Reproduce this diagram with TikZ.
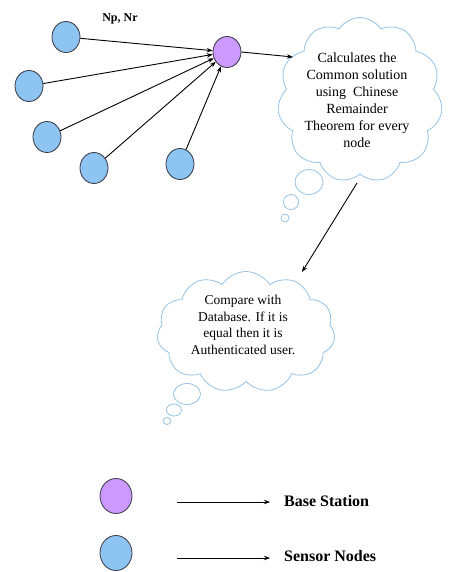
\documentclass[tikz,border=0pt]{standalone}
\usepackage{fontspec}
\setmainfont{Liberation Serif}
\usetikzlibrary{shapes.geometric,shapes.symbols,arrows.meta}
\definecolor{sensorblue}{RGB}{141,196,242}
\definecolor{bspurple}{RGB}{204,153,255}
\definecolor{cloudline}{RGB}{150,195,228}
\definecolor{nodeline}{RGB}{55,55,65}
\begin{document}
\begin{tikzpicture}[x=1pt,y=-1pt,
  sensor/.style={ellipse,draw=nodeline,line width=0.8pt,fill=sensorblue,inner sep=0pt,minimum width=28pt,minimum height=31pt},
  basest/.style={ellipse,draw=nodeline,line width=0.8pt,fill=bspurple,inner sep=0pt,minimum width=28pt,minimum height=31pt},
  thought/.style={cloud,draw=cloudline,line width=0.8pt,cloud puffs=11,cloud puff arc=115,inner sep=0pt},
  bubble/.style={ellipse,draw=cloudline,line width=0.8pt,inner sep=0pt},
  conn/.style={-{Stealth[length=6pt,width=4.5pt]},line width=0.9pt,black},
  ctext/.style={align=center,font=\fontsize{13.5}{16.8}\selectfont,inner sep=0pt},
  legtext/.style={anchor=west,font=\fontsize{16}{18}\selectfont\bfseries,inner sep=2pt}
]
\useasboundingbox (0,0) rectangle (452,572);
\fill[white] (0,0) rectangle (452,572);

% sensor nodes and base station
\node[sensor] (s1) at (66,37) {};
\node[sensor] (s2) at (29,86) {};
\node[sensor] (s3) at (47,137) {};
\node[sensor] (s4) at (94,168) {};
\node[sensor] (s5) at (180,164) {};
\node[basest] (bs) at (227,52) {};
\node[font=\fontsize{12}{14}\selectfont\bfseries] (np) at (120,19) {Np, Nr};

\foreach \s in {s1,s2,s3,s4,s5} \draw[conn] (\s) -- (bs);

% cloud 1
\node[thought,minimum width=165pt,minimum height=165pt,aspect=1.0] (c1) at (360,100) {};
\node[bubble,minimum width=28pt,minimum height=25pt] (b11) at (309,182) {};
\node[bubble,minimum width=15pt,minimum height=15pt] (b12) at (291,202) {};
\node[bubble,minimum width=8pt,minimum height=8pt] (b13) at (285,218) {};
\node[ctext,font=\fontsize{14}{17}\selectfont] (t1) at (357,100) {Calculates the\\Common solution\\using\ \ Chinese\\Remainder\\Theorem for every\\node};

\coordinate (c1in) at (293,57);
\draw[conn] (bs.east) -- (c1in);

% cloud 2
\node[thought,minimum width=178pt,minimum height=121pt,aspect=1.47] (c2) at (246,332) {};
\node[bubble,minimum width=27pt,minimum height=21pt] (b21) at (187,394) {};
\node[bubble,minimum width=15pt,minimum height=12pt] (b22) at (174,410) {};
\node[bubble,minimum width=8pt,minimum height=7pt] (b23) at (167,421) {};
\node[ctext] (t2) at (243,325) {Compare with\\Database. If it is\\equal then it is\\Authenticated user.};

\coordinate (c1out) at (357,183);
\coordinate (c2in) at (302,272);
\draw[conn] (c1out) -- (c2in);

% legend
\node[basest,minimum width=32pt,minimum height=35pt] (lbs) at (116,496) {};
\node[sensor,minimum width=32pt,minimum height=35pt] (lsn) at (116,553) {};
\node[legtext] (lt1) at (282,501) {Base Station};
\node[legtext] (lt2) at (282,556) {Sensor Nodes};
\coordinate (la1) at (177,502);
\coordinate (la2) at (177,558);
\draw[conn,shorten >=12pt] (la1) -- (lt1.west |- la1);
\draw[conn,shorten >=12pt] (la2) -- (lt2.west |- la2);
\end{tikzpicture}
\end{document}
